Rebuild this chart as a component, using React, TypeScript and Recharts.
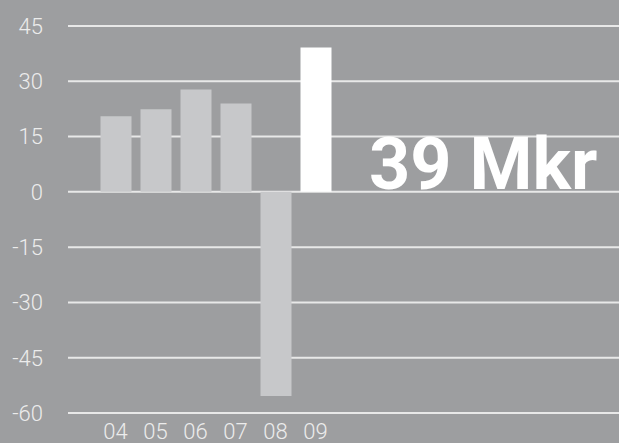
import React from "react";
import { BarChart, Bar, XAxis, YAxis, CartesianGrid, Cell } from "recharts";

const years = ["04", "05", "06", "07", "08", "09"];
const values = [20.5, 22.4, 27.8, 24.0, -55.4, 39.2];
const yTicks = [45, 30, 15, 0, -15, -30, -45, -60];
const headline = "39 Mkr";

const data = years.map((y, i) => ({ year: y, value: values[i] }));

const BG = "#9d9ea0";
const BAR = "#c7c8ca";
const LINE = "#e8e8e8";
const TXT = "#ececec";

export default function App() {
  return (
    <div style={{ position: "absolute", left: 0, top: 0, width: 619, height: 443, background: BG }}>
      <BarChart
        width={619}
        height={443}
        data={data}
        margin={{ top: 26, right: 0, bottom: 0, left: 0 }}
      >
        <CartesianGrid vertical={false} stroke={LINE} strokeWidth={2} />
        <XAxis
          dataKey="year"
          axisLine={false}
          tickLine={false}
          tickSize={0}
          tickMargin={10}
          height={30}
          padding={{ left: 27.5, right: 283.5 }}
          tick={{ fill: TXT, fontSize: 22, fontFamily: "Roboto", fontWeight: 300 }}
          interval={0}
        />
        <YAxis
          domain={[-60, 45]}
          ticks={yTicks}
          axisLine={false}
          tickLine={false}
          tickSize={0}
          tickMargin={25}
          width={68}
          interval={0}
          tick={{ fill: TXT, fontSize: 22, fontFamily: "Roboto", fontWeight: 300 }}
        />
        <Bar dataKey="value" barSize={31} isAnimationActive={false}>
          {data.map((d, i) => (
            <Cell key={d.year} fill={i === data.length - 1 ? "#ffffff" : BAR} />
          ))}
        </Bar>
      </BarChart>
      <svg
        width={619}
        height={443}
        style={{ position: "absolute", left: 0, top: 0, pointerEvents: "none" }}
      >
        <text
          x={369}
          y={189}
          fill="#ffffff"
          fontFamily="Roboto"
          fontWeight={700}
          fontSize={72}
        >
          {headline}
        </text>
      </svg>
    </div>
  );
}
